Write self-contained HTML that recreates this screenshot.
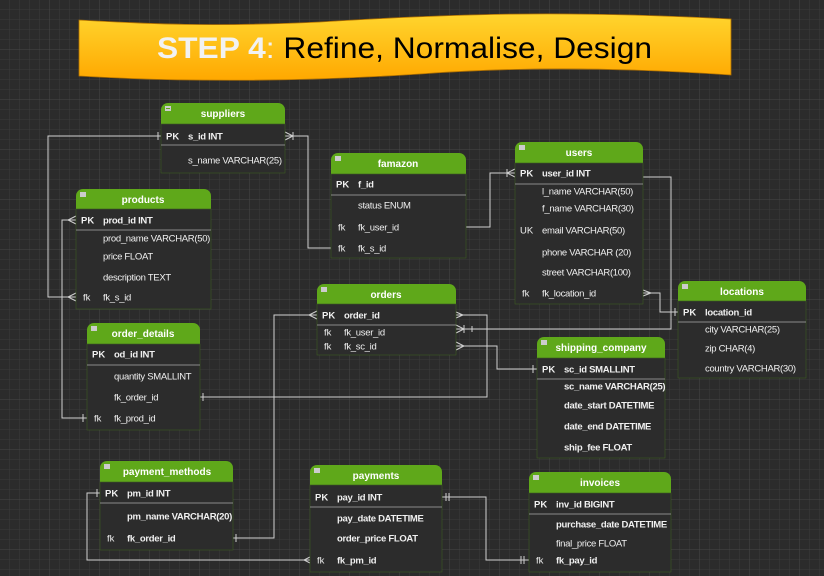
<!DOCTYPE html>
<html><head><meta charset="utf-8"><style>
html,body{margin:0;padding:0;background:#2b2b2b;}
svg{display:block;font-family:"Liberation Sans",sans-serif;}
.h{font-weight:bold;font-size:10px;fill:#fff;text-anchor:middle;}
.r{font-size:9.5px;fill:#f0f0f0;letter-spacing:-0.3px;}
.k{font-size:9.5px;fill:#f0f0f0;}
.c{stroke:#d0d0d0;stroke-width:1;fill:none;}
</style></head><body>
<svg width="824" height="576" viewBox="0 0 824 576" xmlns="http://www.w3.org/2000/svg">
<defs>
<pattern id="g" width="10" height="10" patternUnits="userSpaceOnUse">
<path d="M10 0V10M0 10H10" stroke="#3b3b3b" stroke-width="1"/>
</pattern>
<pattern id="G" width="50" height="50" patternUnits="userSpaceOnUse">
<path d="M50 0V50M0 50H50" stroke="#474747" stroke-width="1"/>
</pattern>
<linearGradient id="y" x1="0" y1="0" x2="0" y2="1">
<stop offset="0" stop-color="#ffd52e"/><stop offset="1" stop-color="#ffa800"/>
</linearGradient>
</defs>
<rect width="824" height="576" fill="#2b2b2b"/>
<rect width="824" height="576" fill="url(#g)"/>
<rect width="824" height="576" fill="url(#G)"/>

<!-- banner -->
<path d="M79 20 C150 24 210 27 320 22 C450 14 560 10 731 19 L731 75 C600 66 500 68 420 74 C300 82 180 82 79 76 Z" fill="url(#y)" stroke="#b07000" stroke-width="0.8"/>
<text x="157" y="58" font-size="30" textLength="495" lengthAdjust="spacingAndGlyphs"><tspan font-weight="bold" fill="#f2f2f2">STEP 4</tspan><tspan fill="#f2f2f2">:</tspan><tspan fill="#000"> Refine, Normalise, Design</tspan></text>

<!-- connectors -->
<g class="c">
<!-- suppliers PK -> products fk_s_id -->
<path d="M161 136H48V297H76"/><path d="M158 132V140"/>
<path d="M76 293L68 297L76 301"/>
<!-- suppliers -> famazon fk_s_id -->
<path d="M285 136H308V248H331"/><path d="M285 132L293 136L285 140M293 132V140"/>
<!-- products PK -> order_details fk_prod_id -->
<path d="M76 220H62V418H87"/><path d="M76 216L68 220L76 224"/><path d="M83 414V422"/>
<!-- famazon fk_user_id -> users PK -->
<path d="M466 227H490V173H515"/><path d="M515 169L507 173L515 177M507 169V177"/>
<!-- users PK -> orders fk_user_id -->
<path d="M643 177H671V329H456"/><path d="M456 325L464 329L456 333M464 325V333"/><path d="M472 326V332"/>
<!-- users fk_location_id -> locations PK -->
<path d="M643 293H660V312H678"/><path d="M643 290L651 293L643 296"/><path d="M675 308V316"/>
<!-- orders fk_sc_id -> shipping PK -->
<path d="M456 346H497V369H537"/><path d="M456 342L464 346L456 350"/><path d="M533 365V373"/>
<!-- orders PK -> order_details fk_order_id -->
<path d="M456 315H487V397H200"/><path d="M456 312L463 315L456 318"/><path d="M203 393V401"/>
<!-- orders PK left -> payment_methods fk_order_id -->
<path d="M317 315H274V538H233"/><path d="M317 311L309 315L317 319"/><path d="M236 534V542"/>
<!-- payment_methods PK -> payments fk_pm_id -->
<path d="M100 493H87V560H310"/><path d="M97 489V497"/><path d="M310 557L304 560L310 563"/>
<!-- payments PK -> invoices fk_pay_id -->
<path d="M442 497H486V560H529"/><path d="M446 493V501M449 493V501"/><path d="M521 556V564M524 556V564"/>
</g>

<!-- tables -->
<g id="tables"></g>
<!-- suppliers -->
<g>
<rect x="161" y="103" width="124" height="70" rx="7" fill="#5fa81a"/>
<rect x="161" y="124" width="124" height="49" fill="#2c2c2c" stroke="#3d5a22" stroke-width="0.6"/>
<rect x="165" y="106" width="6" height="5" fill="#ccc"/><path d="M166 108.5H170" stroke="#5fa81a"/>
<text class="h" x="223" y="117">suppliers</text>
<line x1="161" y1="145" x2="285" y2="145" stroke="#8a8a8a"/>
<text class="k" x="166" y="139.5" font-weight="bold">PK</text><text class="r" x="188" y="139.5" font-weight="bold">s_id INT</text>
<text class="r" x="188" y="163.5">s_name VARCHAR(25)</text>
</g>
<!-- products -->
<g>
<rect x="76" y="189" width="135" height="120" rx="7" fill="#5fa81a"/>
<rect x="76" y="209" width="135" height="100" fill="#2c2c2c" stroke="#3d5a22" stroke-width="0.6"/>
<rect x="80" y="192" width="6" height="5" fill="#ccc"/>
<text class="h" x="143" y="203">products</text>
<line x1="76" y1="230" x2="211" y2="230" stroke="#8a8a8a"/>
<text class="k" x="81" y="223.5" font-weight="bold">PK</text><text class="r" x="103" y="223.5" font-weight="bold">prod_id INT</text>
<text class="r" x="103" y="241.5">prod_name VARCHAR(50)</text>
<text class="r" x="103" y="259.5">price FLOAT</text>
<text class="r" x="103" y="280.5">description TEXT</text>
<text class="k" x="83" y="300.5">fk</text><text class="r" x="103" y="300.5">fk_s_id</text>
</g>
<!-- order_details -->
<g>
<rect x="87" y="323" width="113" height="107" rx="7" fill="#5fa81a"/>
<rect x="87" y="344" width="113" height="86" fill="#2c2c2c" stroke="#3d5a22" stroke-width="0.6"/>
<rect x="91" y="326" width="6" height="5" fill="#ccc"/>
<text class="h" x="143" y="337">order_details</text>
<line x1="87" y1="365" x2="200" y2="365" stroke="#8a8a8a"/>
<text class="k" x="92" y="357.5" font-weight="bold">PK</text><text class="r" x="114" y="357.5" font-weight="bold">od_id INT</text>
<text class="r" x="114" y="379.5">quantity SMALLINT</text>
<text class="r" x="114" y="400.5">fk_order_id</text>
<text class="k" x="94" y="421.5">fk</text><text class="r" x="114" y="421.5">fk_prod_id</text>
</g>
<!-- famazon -->
<g>
<rect x="331" y="153" width="135" height="105" rx="7" fill="#5fa81a"/>
<rect x="331" y="174" width="135" height="84" fill="#2c2c2c" stroke="#3d5a22" stroke-width="0.6"/>
<rect x="335" y="156" width="6" height="5" fill="#ccc"/>
<text class="h" x="398" y="167">famazon</text>
<line x1="331" y1="195" x2="466" y2="195" stroke="#8a8a8a"/>
<text class="k" x="336" y="187.5" font-weight="bold">PK</text><text class="r" x="358" y="187.5" font-weight="bold">f_id</text>
<text class="r" x="358" y="208.5">status ENUM</text>
<text class="k" x="338" y="230.5">fk</text><text class="r" x="358" y="230.5">fk_user_id</text>
<text class="k" x="338" y="251.5">fk</text><text class="r" x="358" y="251.5">fk_s_id</text>
</g>
<!-- users -->
<g>
<rect x="515" y="142" width="128" height="162" rx="7" fill="#5fa81a"/>
<rect x="515" y="163" width="128" height="141" fill="#2c2c2c" stroke="#3d5a22" stroke-width="0.6"/>
<rect x="519" y="145" width="6" height="5" fill="#ccc"/>
<text class="h" x="579" y="156">users</text>
<line x1="515" y1="184" x2="643" y2="184" stroke="#8a8a8a"/>
<text class="k" x="520" y="176.5" font-weight="bold">PK</text><text class="r" x="542" y="176.5" font-weight="bold">user_id INT</text>
<text class="r" x="542" y="194.5">l_name VARCHAR(50)</text>
<text class="r" x="542" y="211.5">f_name VARCHAR(30)</text>
<text class="k" x="520" y="233.5">UK</text><text class="r" x="542" y="233.5">email VARCHAR(50)</text>
<text class="r" x="542" y="255.5">phone VARCHAR (20)</text>
<text class="r" x="542" y="275.5">street VARCHAR(100)</text>
<text class="k" x="522" y="296.5">fk</text><text class="r" x="542" y="296.5">fk_location_id</text>
</g>
<!-- locations -->
<g>
<rect x="678" y="281" width="128" height="97" rx="7" fill="#5fa81a"/>
<rect x="678" y="301" width="128" height="77" fill="#2c2c2c" stroke="#3d5a22" stroke-width="0.6"/>
<rect x="682" y="284" width="6" height="5" fill="#ccc"/>
<text class="h" x="742" y="295">locations</text>
<line x1="678" y1="322" x2="806" y2="322" stroke="#8a8a8a"/>
<text class="k" x="683" y="315.5" font-weight="bold">PK</text><text class="r" x="705" y="315.5" font-weight="bold">location_id</text>
<text class="r" x="705" y="332.5">city VARCHAR(25)</text>
<text class="r" x="705" y="351.5">zip CHAR(4)</text>
<text class="r" x="705" y="371.5">country VARCHAR(30)</text>
</g>
<!-- orders -->
<g>
<rect x="317" y="284" width="139" height="71" rx="7" fill="#5fa81a"/>
<rect x="317" y="304" width="139" height="51" fill="#2c2c2c" stroke="#3d5a22" stroke-width="0.6"/>
<rect x="321" y="287" width="6" height="5" fill="#ccc"/>
<text class="h" x="386" y="298">orders</text>
<line x1="317" y1="325" x2="456" y2="325" stroke="#8a8a8a"/>
<text class="k" x="322" y="318.5" font-weight="bold">PK</text><text class="r" x="344" y="318.5" font-weight="bold">order_id</text>
<text class="k" x="324" y="335.5">fk</text><text class="r" x="344" y="335.5">fk_user_id</text>
<text class="k" x="324" y="349.5">fk</text><text class="r" x="344" y="349.5">fk_sc_id</text>
</g>
<!-- shipping_company -->
<g>
<rect x="537" y="337" width="128" height="121" rx="7" fill="#5fa81a"/>
<rect x="537" y="358" width="128" height="100" fill="#2c2c2c" stroke="#3d5a22" stroke-width="0.6"/>
<rect x="541" y="340" width="6" height="5" fill="#ccc"/>
<text class="h" x="601" y="351">shipping_company</text>
<line x1="537" y1="379" x2="665" y2="379" stroke="#8a8a8a"/>
<text class="k" x="542" y="372.5" font-weight="bold">PK</text><text class="r" x="564" y="372.5" font-weight="bold">sc_id SMALLINT</text>
<text class="r" x="564" y="389.5" font-weight="bold">sc_name VARCHAR(25)</text>
<text class="r" x="564" y="408.5" font-weight="bold">date_start DATETIME</text>
<text class="r" x="564" y="429.5" font-weight="bold">date_end DATETIME</text>
<text class="r" x="564" y="450.5" font-weight="bold">ship_fee FLOAT</text>
</g>
<!-- payment_methods -->
<g>
<rect x="100" y="461" width="133" height="89" rx="7" fill="#5fa81a"/>
<rect x="100" y="482" width="133" height="68" fill="#2c2c2c" stroke="#3d5a22" stroke-width="0.6"/>
<rect x="104" y="464" width="6" height="5" fill="#ccc"/>
<text class="h" x="167" y="475">payment_methods</text>
<line x1="100" y1="503" x2="233" y2="503" stroke="#8a8a8a"/>
<text class="k" x="105" y="496.5" font-weight="bold">PK</text><text class="r" x="127" y="496.5" font-weight="bold">pm_id INT</text>
<text class="r" x="127" y="519.5" font-weight="bold">pm_name VARCHAR(20)</text>
<text class="k" x="107" y="541.5">fk</text><text class="r" x="127" y="541.5" font-weight="bold">fk_order_id</text>
</g>
<!-- payments -->
<g>
<rect x="310" y="465" width="132" height="107" rx="7" fill="#5fa81a"/>
<rect x="310" y="485" width="132" height="87" fill="#2c2c2c" stroke="#3d5a22" stroke-width="0.6"/>
<rect x="314" y="468" width="6" height="5" fill="#ccc"/>
<text class="h" x="376" y="479">payments</text>
<line x1="310" y1="507" x2="442" y2="507" stroke="#8a8a8a"/>
<text class="k" x="315" y="500.5" font-weight="bold">PK</text><text class="r" x="337" y="500.5" font-weight="bold">pay_id INT</text>
<text class="r" x="337" y="521.5" font-weight="bold">pay_date DATETIME</text>
<text class="r" x="337" y="541.5" font-weight="bold">order_price FLOAT</text>
<text class="k" x="317" y="563.5">fk</text><text class="r" x="337" y="563.5" font-weight="bold">fk_pm_id</text>
</g>
<!-- invoices -->
<g>
<rect x="529" y="472" width="142" height="100" rx="7" fill="#5fa81a"/>
<rect x="529" y="493" width="142" height="79" fill="#2c2c2c" stroke="#3d5a22" stroke-width="0.6"/>
<rect x="533" y="475" width="6" height="5" fill="#ccc"/>
<text class="h" x="600" y="486">invoices</text>
<line x1="529" y1="514" x2="671" y2="514" stroke="#8a8a8a"/>
<text class="k" x="534" y="507.5" font-weight="bold">PK</text><text class="r" x="556" y="507.5" font-weight="bold">inv_id BIGINT</text>
<text class="r" x="556" y="527.5" font-weight="bold">purchase_date DATETIME</text>
<text class="r" x="556" y="546.5">final_price FLOAT</text>
<text class="k" x="536" y="563.5">fk</text><text class="r" x="556" y="563.5" font-weight="bold">fk_pay_id</text>
</g>
</svg>
</body></html>
